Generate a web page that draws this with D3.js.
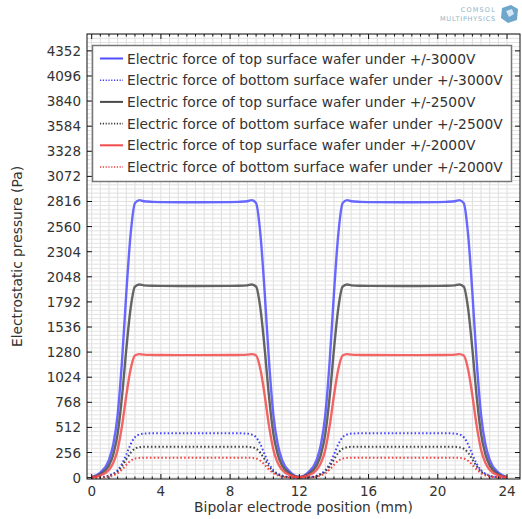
<!DOCTYPE html>
<html>
<head>
<meta charset="utf-8">
<script src="https://cdn.jsdelivr.net/npm/d3@7"></script>
<style>
  body { margin: 0; background: #fff; }
  svg { display: block; font-family: "DejaVu Sans", sans-serif; }
</style>
</head>
<body>
<svg id="chart" width="522" height="519"></svg>
<script>
// positions along the electrode (mm)
var xs = [0, 0.5, 1, 1.25, 1.5, 1.75, 2, 2.25, 2.5, 2.75, 3, 3.5, 4, 6, 8, 8.5, 9, 9.25, 9.5, 9.75, 10, 10.25, 10.5, 10.75, 11, 11.5, 12,
          12.5, 13, 13.25, 13.5, 13.75, 14, 14.25, 14.5, 14.75, 15, 15.5, 16, 18, 20, 20.5, 21, 21.25, 21.5, 21.75, 22, 22.25, 22.5, 22.75, 23, 23.5, 24];

var top3000 = [6, 51, 180, 340, 641, 1180, 1880, 2481, 2799, 2830, 2818, 2812, 2810, 2808, 2810, 2812, 2818, 2830, 2799, 2481, 1880, 1180, 641, 340, 180, 51, 6,
               51, 180, 340, 641, 1180, 1880, 2481, 2799, 2830, 2818, 2812, 2810, 2808, 2810, 2812, 2818, 2830, 2799, 2481, 1880, 1180, 641, 340, 180, 51, 6];
var bottom3000 = [0, 4, 20, 40, 75, 140, 235, 340, 412, 440, 449, 452, 452, 452, 452, 452, 449, 440, 412, 340, 235, 140, 75, 40, 20, 4, 0,
                  4, 20, 40, 75, 140, 235, 340, 412, 440, 449, 452, 452, 452, 452, 452, 449, 440, 412, 340, 235, 140, 75, 40, 20, 4, 0];
var top2500 = [4, 35, 125, 237, 446, 821, 1308, 1726, 1947, 1969, 1961, 1956, 1955, 1954, 1955, 1956, 1961, 1969, 1947, 1726, 1308, 821, 446, 237, 125, 35, 4,
               35, 125, 237, 446, 821, 1308, 1726, 1947, 1969, 1961, 1956, 1955, 1954, 1955, 1956, 1961, 1969, 1947, 1726, 1308, 821, 446, 237, 125, 35, 4];
var bottom2500 = [0, 3, 16, 33, 62, 115, 185, 253, 295, 310, 314, 315, 315, 315, 315, 315, 314, 310, 295, 253, 185, 115, 62, 33, 16, 3, 0,
                  3, 16, 33, 62, 115, 185, 253, 295, 310, 314, 315, 315, 315, 315, 315, 314, 310, 295, 253, 185, 115, 62, 33, 16, 3, 0];
var top2000 = [3, 22, 80, 151, 285, 525, 836, 1104, 1245, 1259, 1254, 1251, 1250, 1249, 1250, 1251, 1254, 1259, 1245, 1104, 836, 525, 285, 151, 80, 22, 3,
               22, 80, 151, 285, 525, 836, 1104, 1245, 1259, 1254, 1251, 1250, 1249, 1250, 1251, 1254, 1259, 1245, 1104, 836, 525, 285, 151, 80, 22, 3];
var bottom2000 = [0, 2, 11, 23, 45, 82, 130, 172, 195, 201, 203, 203, 203, 203, 203, 203, 203, 201, 195, 172, 130, 82, 45, 23, 11, 2, 0,
                  2, 11, 23, 45, 82, 130, 172, 195, 201, 203, 203, 203, 203, 203, 203, 203, 201, 195, 172, 130, 82, 45, 23, 11, 2, 0];

var seriesNames = [
  "Electric force of top surface wafer under +/-3000V",
  "Electric force of bottom surface wafer under +/-3000V",
  "Electric force of top surface wafer under +/-2500V",
  "Electric force of bottom surface wafer under +/-2500V",
  "Electric force of top surface wafer under +/-2000V",
  "Electric force of bottom surface wafer under +/-2000V"
];
var seriesValues = [top3000, bottom3000, top2500, bottom2500, top2000, bottom2000];
var seriesColors = ["#4f4fff", "#3a3aff", "#4a4a4a", "#3a3a3a", "#f24b4b", "#f53a3a"];
var seriesDotted = [false, true, false, true, false, true];

var xTicks = [0, 4, 8, 12, 16, 20, 24];
var yTicks = [0, 256, 512, 768, 1024, 1280, 1536, 1792, 2048, 2304, 2560, 2816, 3072, 3328, 3584, 3840, 4096, 4352];

var L = 87, R = 520, T = 34, B = 479;
var svg = d3.select("#chart");

var x = d3.scaleLinear().domain([-0.27, 24.75]).range([L, R]);
var y = d3.scaleLinear().domain([-14, 4524]).range([B, T]);

// grid
var grid = svg.append("g");
grid.selectAll(".gx").data(d3.range(0, 24.01, 0.5)).enter().append("line")
  .attr("x1", function(d) { return x(d); }).attr("x2", function(d) { return x(d); })
  .attr("y1", T).attr("y2", B)
  .attr("stroke", "#dedede").attr("stroke-width", 1);
grid.selectAll(".gy").data(d3.range(0, 4524, 256 / 6)).enter().append("line")
  .attr("y1", function(d) { return y(d); }).attr("y2", function(d) { return y(d); })
  .attr("x1", L).attr("x2", R)
  .attr("stroke", "#e2e2e2").attr("stroke-width", 1);

svg.append("clipPath").attr("id", "clip").append("rect")
  .attr("x", L).attr("y", T).attr("width", R - L).attr("height", B - T);

var line = d3.line()
  .x(function(d, i) { return x(xs[i]); })
  .y(function(d) { return y(d); })
  .curve(d3.curveMonotoneX);

var plot = svg.append("g").attr("clip-path", "url(#clip)");
seriesValues.forEach(function(vals, i) {
  plot.append("path")
    .attr("d", line(vals))
    .attr("fill", "none")
    .attr("stroke", seriesColors[i])
    .attr("stroke-width", seriesDotted[i] ? 2 : 2.4)
    .attr("stroke-opacity", seriesDotted[i] ? 0.95 : 0.85)
    .attr("stroke-dasharray", seriesDotted[i] ? "1.6,2.2" : null);
});

// frame and inward ticks
svg.append("rect").attr("x", L).attr("y", T).attr("width", R - L).attr("height", B - T)
  .attr("fill", "none").attr("stroke", "#111").attr("stroke-width", 1);

var ticks = svg.append("g").attr("stroke", "#111").attr("stroke-width", 1);
d3.range(0, 24.01, 0.5).forEach(function(v) {
  var len = (v % 4 === 0) ? 5 : 2.5;
  ticks.append("line").attr("x1", x(v)).attr("x2", x(v)).attr("y1", B).attr("y2", B - len);
  ticks.append("line").attr("x1", x(v)).attr("x2", x(v)).attr("y1", T).attr("y2", T + len);
});
yTicks.forEach(function(v) {
  ticks.append("line").attr("y1", y(v)).attr("y2", y(v)).attr("x1", L).attr("x2", L + 5);
  ticks.append("line").attr("y1", y(v)).attr("y2", y(v)).attr("x1", R).attr("x2", R - 5);
});

// tick labels
svg.append("g").selectAll("text").data(xTicks).enter().append("text")
  .attr("x", function(d) { return x(d); }).attr("y", 496)
  .attr("text-anchor", "middle").attr("font-size", "13.5px").attr("fill", "#333")
  .text(function(d) { return d; });
svg.append("g").selectAll("text").data(yTicks).enter().append("text")
  .attr("x", 81).attr("y", function(d) { return y(d) + 5; })
  .attr("text-anchor", "end").attr("font-size", "13.5px").attr("fill", "#333")
  .text(function(d) { return d; });

// axis titles
svg.append("text").attr("x", (L + R) / 2).attr("y", 512)
  .attr("text-anchor", "middle").attr("font-size", "13.8px").attr("fill", "#333")
  .text("Bipolar electrode position (mm)");
svg.append("text").attr("transform", "translate(22," + ((T + B) / 2) + ") rotate(-90)")
  .attr("text-anchor", "middle").attr("font-size", "13.8px").attr("fill", "#333")
  .text("Electrostatic pressure (Pa)");

// legend
var lg = svg.append("g");
lg.append("rect").attr("x", 92.5).attr("y", 45.5).attr("width", 419).attr("height", 136)
  .attr("fill", "#fff").attr("stroke", "#777").attr("stroke-width", 1.5);
seriesNames.forEach(function(name, i) {
  var ly = 58.5 + i * 21.7;
  lg.append("line").attr("x1", 100).attr("x2", 123).attr("y1", ly).attr("y2", ly)
    .attr("stroke", seriesColors[i])
    .attr("stroke-width", seriesDotted[i] ? 1.6 : 2)
    .attr("stroke-dasharray", seriesDotted[i] ? "1.2,1.6" : null);
  lg.append("text").attr("x", 127).attr("y", ly + 5)
    .attr("font-size", "13.8px").attr("fill", "#333").text(name);
});

// COMSOL mark
var logo = svg.append("g").attr("fill", "#8fb4c8");
logo.append("text").attr("x", 496).attr("y", 12).attr("text-anchor", "end")
  .attr("font-size", "6.5px").attr("letter-spacing", "1.2").text("COMSOL");
logo.append("text").attr("x", 496).attr("y", 21).attr("text-anchor", "end")
  .attr("font-size", "6.5px").attr("letter-spacing", "0.8").text("MULTIPHYSICS");
logo.append("path").attr("d", "M502,8 L511,5 L518,9 L517,20 L508,23 L501,18 Z").attr("fill", "#6fa6cc");
logo.append("path").attr("d", "M506,11 L512,9 L514,14 L509,17 Z").attr("fill", "#d6e8f3");
</script>
</body>
</html>
